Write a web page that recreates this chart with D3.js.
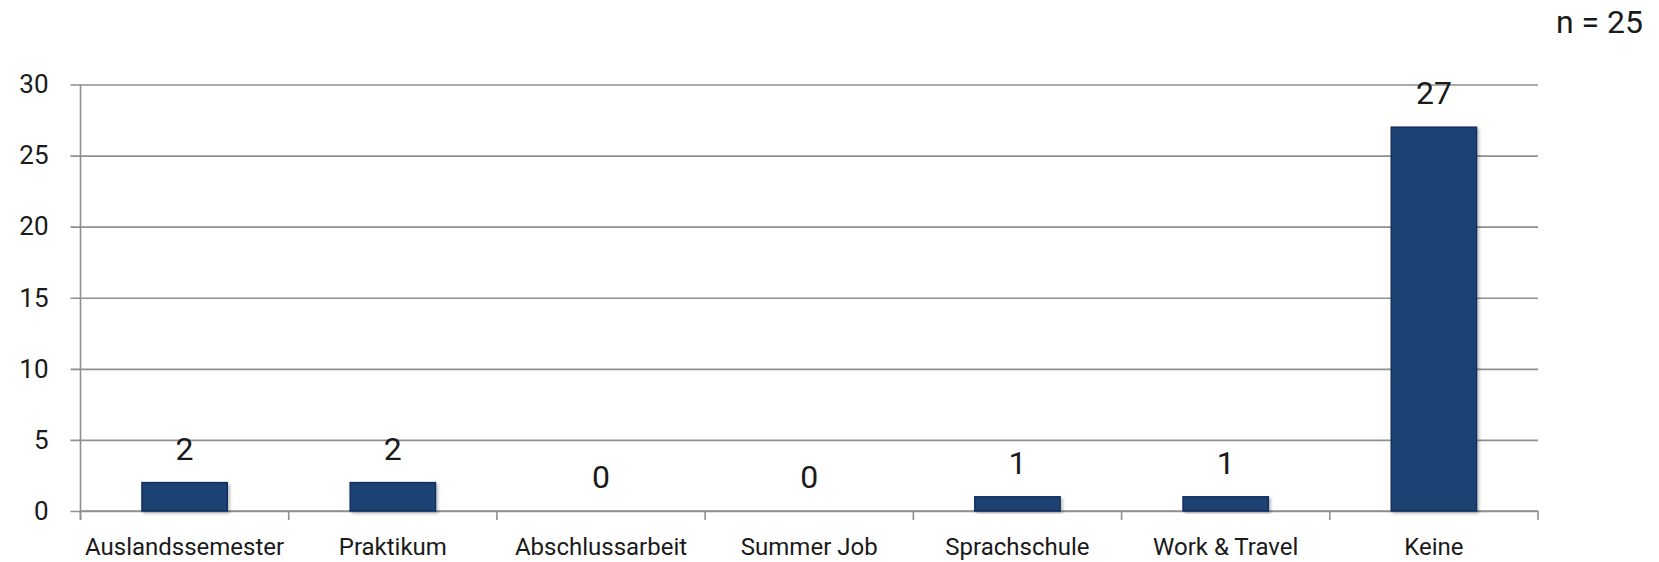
<!DOCTYPE html>
<html>
<head>
<meta charset="utf-8">
<script src="https://cdn.jsdelivr.net/npm/d3@7"></script>
<style>
  body { margin: 0; background: #fff; }
  text { font-family: Roboto, "Open Sans", sans-serif; fill: #1a1a1a; }
</style>
</head>
<body>
<div id="chart"></div>
<script>
// chart data
let categories = ["Auslandssemester", "Praktikum", "Abschlussarbeit", "Summer Job", "Sprachschule", "Work & Travel", "Keine"];
let counts = [2, 2, 0, 0, 1, 1, 27];
let yTicks = [0, 5, 10, 15, 20, 25, 30];
let sampleNote = "n = 25";

let svgWidth = 1659;
let svgHeight = 562;
let margin = { top: 84.5, right: 121, bottom: 51, left: 80.5 };
let chartWidth = svgWidth - margin.left - margin.right;
let chartHeight = svgHeight - margin.top - margin.bottom;

let svg = d3.select("#chart").append("svg")
  .attr("width", svgWidth)
  .attr("height", svgHeight);

// soft shadow under the bars
let defs = svg.append("defs");
let shadow = defs.append("filter").attr("id", "shadow")
  .attr("x", "-10%").attr("y", "-10%").attr("width", "130%").attr("height", "130%");
shadow.append("feDropShadow")
  .attr("dx", 2).attr("dy", 2).attr("stdDeviation", 1.5)
  .attr("flood-color", "#000").attr("flood-opacity", 0.25);

let chartGroup = svg.append("g")
  .attr("transform", `translate(${margin.left}, ${margin.top})`);

let xScale = d3.scaleBand().domain(categories).range([0, chartWidth]).padding(0);
let yScale = d3.scaleLinear().domain([0, 30]).range([chartHeight, 0]);

// horizontal gridlines + y labels
let yAxis = d3.axisLeft(yScale).tickValues(yTicks).tickSize(-chartWidth).tickPadding(32);
let yG = chartGroup.append("g").attr("class", "y-axis").call(yAxis);
yG.select(".domain").remove();
yG.selectAll(".tick line")
  .attr("x1", -10)
  .attr("stroke", "#8f8f8f").attr("stroke-width", 1.6);
yG.selectAll(".tick text")
  .attr("font-size", 26).attr("fill", "#1a1a1a")
  .style("font-family", "Roboto, sans-serif");

// vertical axis line
chartGroup.append("line")
  .attr("x1", 0).attr("x2", 0).attr("y1", 0).attr("y2", chartHeight + 9)
  .attr("stroke", "#8f8f8f").attr("stroke-width", 1.6);

// x axis: ticks between categories
let xG = chartGroup.append("g").attr("transform", `translate(0, ${chartHeight})`);
let boundaries = d3.range(categories.length + 1).map((i) => i * xScale.step());
xG.selectAll(".xtick").data(boundaries).enter().append("line")
  .attr("x1", (d) => d).attr("x2", (d) => d)
  .attr("y1", 0).attr("y2", 9)
  .attr("stroke", "#8f8f8f").attr("stroke-width", 1.6);
xG.append("line")
  .attr("x1", 0).attr("x2", chartWidth).attr("y1", 0).attr("y2", 0)
  .attr("stroke", "#8f8f8f").attr("stroke-width", 1.6);
xG.selectAll(".xlabel").data(categories).enter().append("text")
  .attr("x", (d) => xScale(d) + xScale.bandwidth() / 2)
  .attr("y", 44)
  .attr("text-anchor", "middle")
  .attr("font-size", 24)
  .text((d) => d);

// bars
let barWidth = xScale.bandwidth() * 0.41;
let rows = categories.map((c, i) => ({ cat: c, value: counts[i] }));
chartGroup.selectAll(".bar").data(rows.filter((d) => d.value > 0)).enter().append("rect")
  .attr("x", (d) => xScale(d.cat) + (xScale.bandwidth() - barWidth) / 2)
  .attr("y", (d) => yScale(d.value))
  .attr("width", barWidth)
  .attr("height", (d) => chartHeight - yScale(d.value))
  .attr("fill", "#1d4273")
  .attr("stroke", "#0f2d5e")
  .attr("stroke-width", 1.4)
  .attr("filter", "url(#shadow)");

// value labels
chartGroup.selectAll(".vlabel").data(rows).enter().append("text")
  .attr("x", (d) => xScale(d.cat) + xScale.bandwidth() / 2)
  .attr("y", (d) => yScale(d.value) - 23)
  .attr("text-anchor", "middle")
  .attr("font-size", 32)
  .text((d) => d.value);

// sample size note
svg.append("text")
  .attr("x", 1643).attr("y", 32.5)
  .attr("text-anchor", "end")
  .attr("font-size", 32)
  .text(sampleNote);
</script>
</body>
</html>
